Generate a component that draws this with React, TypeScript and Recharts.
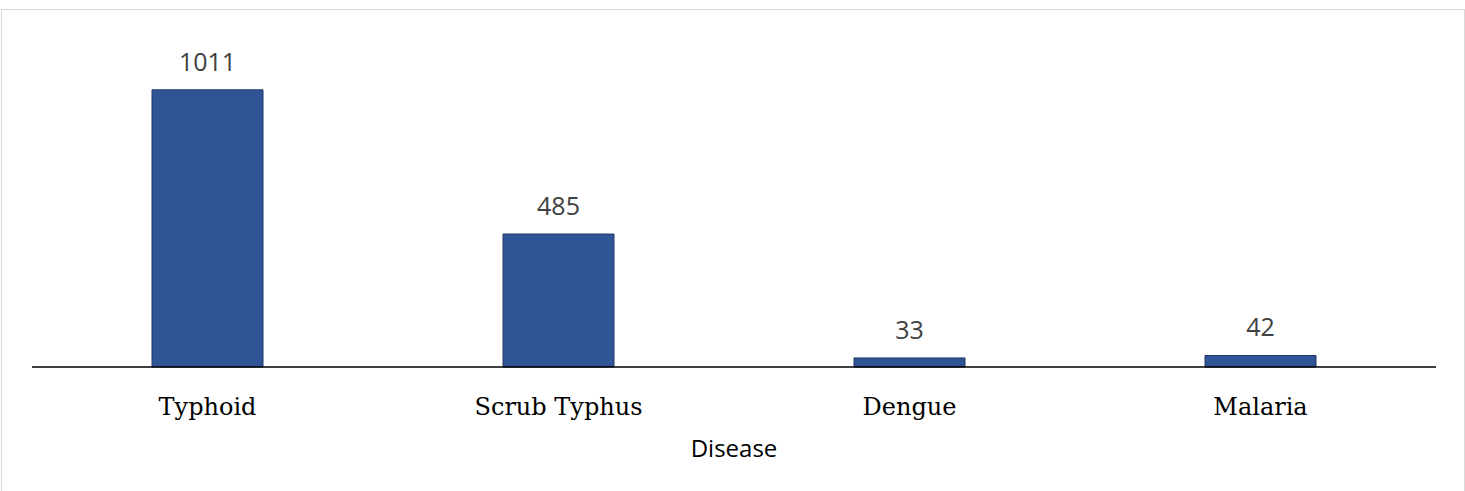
import { BarChart, Bar, XAxis, YAxis, LabelList } from "recharts";

const diseases = ["Typhoid", "Scrub Typhus", "Dengue", "Malaria"];
const cases = [1011, 485, 33, 42];

const data = diseases.map((d, i) => ({ disease: d, cases: cases[i] }));

export default function App() {
  return (
    <div style={{ position: "absolute", left: 0, top: 0, width: 1465, height: 491, background: "#fff" }}>
      <div
        style={{
          position: "absolute",
          left: 1,
          top: 9,
          width: 1464,
          height: 482,
          boxSizing: "border-box",
          border: "1px solid #d9d9d9",
          borderBottom: "none",
        }}
      />
      <div style={{ position: "absolute", left: 0, top: 0 }}>
        <BarChart width={1465} height={491} data={data} margin={{ top: 38, right: 29, bottom: 24, left: 32 }}>
          <XAxis
            dataKey="disease"
            height={100}
            tickLine={false}
            tickSize={31}
            tickMargin={0}
            axisLine={{ stroke: "#000", strokeWidth: 1.5 }}
            tick={{ fill: "#000", fontFamily: "DejaVu Serif", fontSize: 24 }}
            interval={0}
            label={{
              value: "Disease",
              position: "insideBottom",
              offset: 10,
              fill: "#000",
              fontFamily: "Open Sans",
              fontSize: 24,
            }}
          />
          <YAxis hide domain={[0, 1200]} />
          <Bar dataKey="cases" fill="#2F5597" stroke="#203864" strokeWidth={1} barSize={111} isAnimationActive={false}>
            <LabelList dataKey="cases" position="top" offset={19} fill="#404040" fontFamily="Open Sans" fontSize={25} />
          </Bar>
        </BarChart>
      </div>
    </div>
  );
}
